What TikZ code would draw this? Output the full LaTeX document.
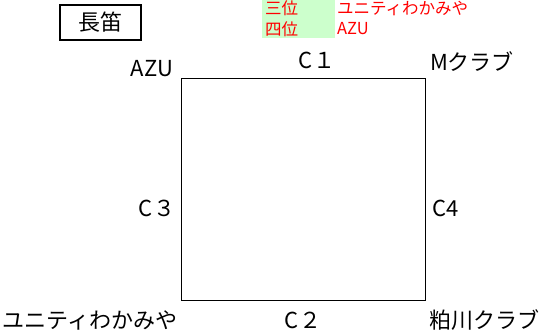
\documentclass[tikz,border=0pt]{standalone}
\usepackage{fontspec}
\setmainfont{Noto Sans CJK JP}
\tikzset{
  lbl/.style = {font=\fontsize{22}{22}\selectfont, inner sep=0pt},
  rank/.style = {font=\fontsize{16.5}{17}\selectfont, text=red, inner sep=0pt, anchor=west}
}
\definecolor{lightgreen}{RGB}{204,255,204}
\begin{document}
\begin{tikzpicture}[x=1pt,y=-1pt]
  \useasboundingbox (0,0) rectangle (540,332);
  \pgfmathsetmacro{\xl}{181}   % left side of court
  \pgfmathsetmacro{\xr}{425}   % right side of court
  \pgfmathsetmacro{\yt}{78}    % top side of court
  \pgfmathsetmacro{\yb}{300}   % bottom side of court
  % title box
  \draw[line width=1.6pt] (60,5) rectangle (141,40);
  \node[lbl] (title) at (100.5,22.5) {長笛};
  % ranking
  \fill[lightgreen] (262,0) rectangle (335,38);
  \node[rank] (third) at (265,8) {三位};
  \node[rank] (thirdteam) at (337,8) {ユニティわかみや};
  \node[rank] (fourth) at (265,29) {四位};
  \node[rank] (fourthteam) at (337,29) {AZU};
  % court
  \draw (\xl,\yt) rectangle (\xr,\yb);
  % corners
  \node[lbl] (azu) at (152,69) {AZU};
  \node[lbl] (mclub) at (472,62) {Mクラブ};
  \node[lbl] (unity) at (90,320) {ユニティわかみや};
  \node[lbl] (kasu) at (484,320) {粕川クラブ};
  % sides
  \node[lbl] (c1) at (317,60) {C１};
  \node[lbl] (c2) at (303,320) {C２};
  \node[lbl] (c3) at (157,208) {C３};
  \node[lbl] (c4) at (446,208) {C4};
\end{tikzpicture}
\end{document}
